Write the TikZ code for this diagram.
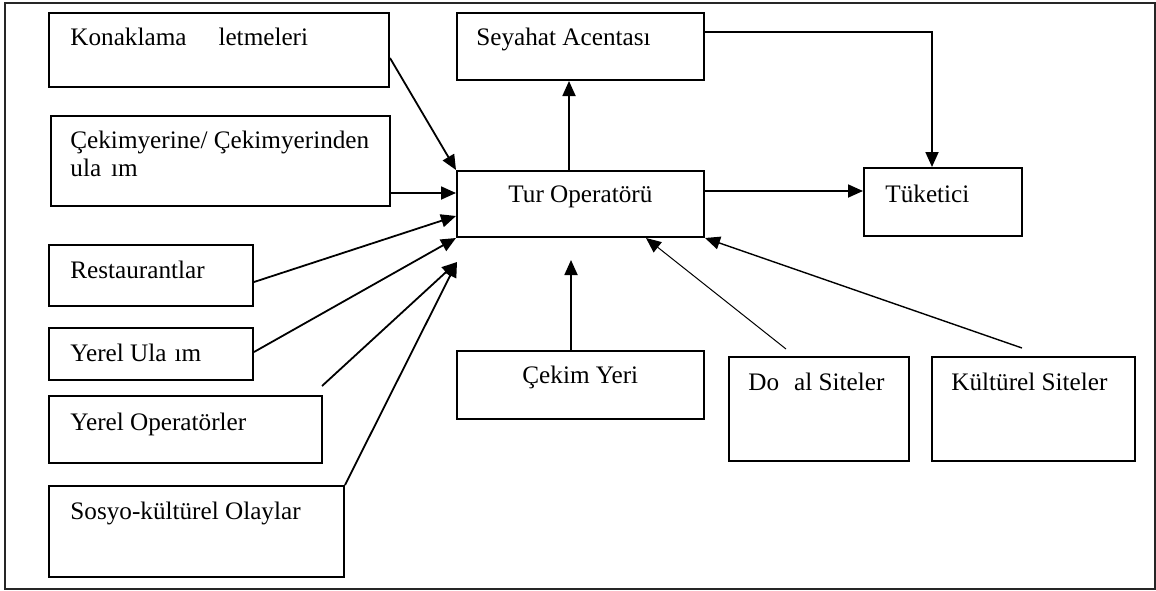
\documentclass[tikz,border=0pt]{standalone}
\usepackage{fontspec}
\setmainfont{Liberation Serif}
\usetikzlibrary{arrows.meta,fit}
\begin{document}
\begin{tikzpicture}[x=0.5pt,y=-0.5pt,
  box/.style={draw, line width=1pt, inner sep=0pt, rectangle},
  lbl/.style={anchor=base west, inner sep=0pt, font=\fontsize{12.6}{14}\selectfont},
  arr/.style={line width=0.9pt, -{Triangle[length=7.5pt,width=6.5pt]}},
  thinarr/.style={arr, line width=0.5pt},
  midarr/.style={arr, line width=0.7pt}]
\useasboundingbox (0,0) rectangle (1156,590);
% outer frame
\draw[line width=0.7pt, black!85] (5,3) rectangle (1155,589);

% suppliers on the left
\node[box, fit={(49,13)(389,87)}] (kon) {};
\node[box, fit={(51,116)(390,206)}] (cek) {};
\node[box, fit={(49,245)(253,306)}] (res) {};
\node[box, fit={(49,328)(253,380)}] (yu) {};
\node[box, fit={(49,396)(322,463)}] (yo) {};
\node[box, fit={(49,486)(344,577)}] (sos) {};
% central column and consumer
\node[box, fit={(457,13)(704,80)}] (sey) {};
\node[box, fit={(457,171)(704,237)}] (tur) {};
\node[box, fit={(864,168)(1022,236)}] (tuk) {};
% attractions below
\node[box, fit={(457,351)(704,419)}] (cy) {};
\node[box, fit={(729,357)(909,461)}] (dog) {};
\node[box, fit={(932,357)(1135,461)}] (kul) {};

% labels
\node[lbl] (t-kon) at (70,45) {Konaklama\hspace{16pt}letmeleri};
\node[lbl] (t-cek1) at (70,148) {Çekimyerine/ Çekimyerinden};
\node[lbl] (t-cek2) at (70,176) {ula\hspace{5pt}ım};
\node[lbl] (t-res) at (70,278) {Restaurantlar};
\node[lbl] (t-yu) at (70,361) {Yerel Ula\hspace{4pt}ım};
\node[lbl] (t-yo) at (70,430) {Yerel Operatörler};
\node[lbl] (t-sos) at (70,519) {Sosyo-kültürel Olaylar};
\node[lbl] (t-sey) at (476,45) {Seyahat Acentası};
\node[lbl] (t-tur) at (508,202) {Tur Operatörü};
\node[lbl] (t-tuk) at (885,202) {Tüketici};
\node[lbl] (t-cy) at (522,383) {Çekim Yeri};
\node[lbl] (t-dog) at (748,390) {Do\hspace{7.5pt}al Siteler};
\node[lbl] (t-kul) at (951,390) {Kültürel Siteler};

% free ends of the connectors
\coordinate (yo-end) at (322,386);
\coordinate (low-tip) at (457,262);
\coordinate (cy-tip) at (571,260);
\coordinate (dog-end) at (786,349);
\coordinate (kul-end) at (1022,348);

% connectors into the tour operator
\draw[arr] (kon.east |- 0,58) -- (tur.north west);
\draw[arr] (cek.east |- 0,193) -- (tur.west |- 0,193);
\draw[arr] (res.east |- 0,282) -- (tur.west |- 0,216);
\draw[arr] (yu.east |- 0,352) -- (tur.south west);
\draw[arr] (yo-end) -- (low-tip);
\draw[arr] (sos.north east) -- (low-tip);
\draw[arr] (cy.north -| 571,0) -- (cy-tip);
\draw[thinarr] (dog-end) -- (tur.south -| 646,0);
\draw[midarr] (kul-end) -- (tur.south east);

% distribution
\draw[arr] (tur.north -| 569,0) -- (sey.south -| 569,0);
\draw[arr] (tur.east |- 0,191) -- (tuk.west |- 0,191);
\draw[arr] (sey.east |- 0,32) -| (tuk.north -| 932,0);
\end{tikzpicture}
\end{document}
